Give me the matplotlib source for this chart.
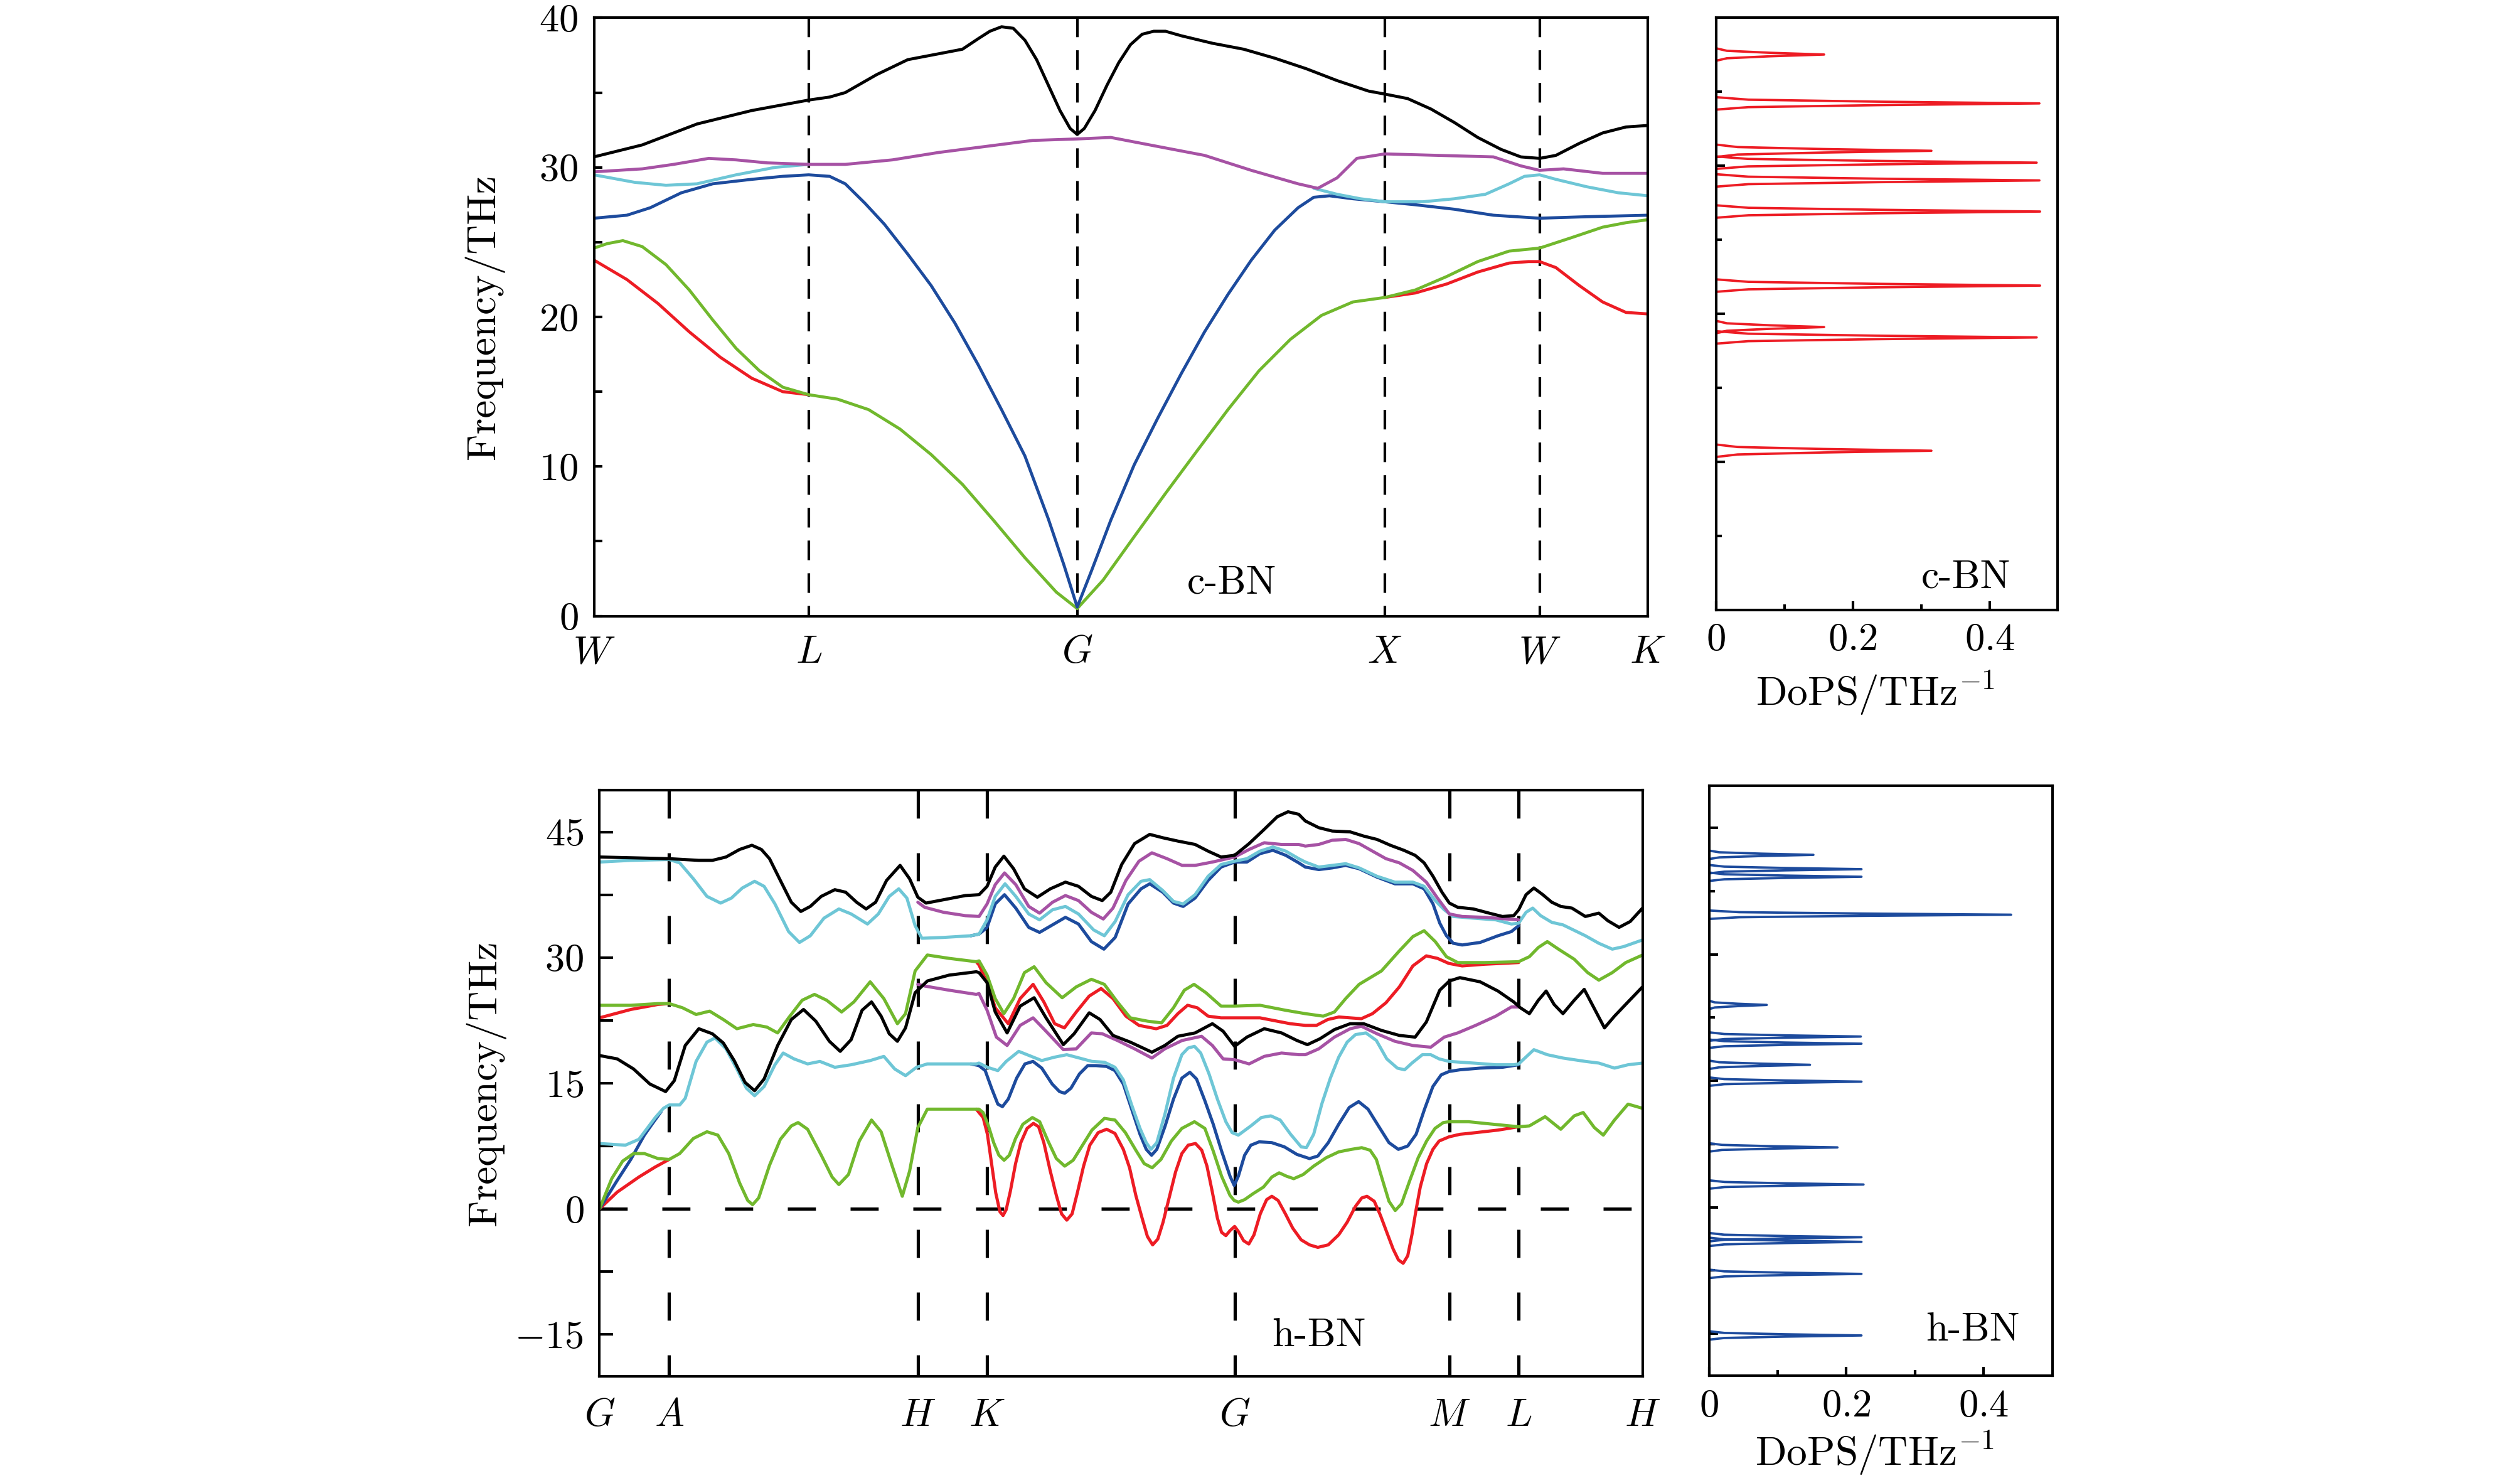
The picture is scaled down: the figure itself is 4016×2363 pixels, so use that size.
import matplotlib
matplotlib.use("Agg")
import matplotlib.pyplot as plt
import numpy as np

# ---------------- c-BN (top) ----------------
cbn_kpos = [0.0, 0.698, 1.571, 2.571, 3.074, 3.426]
cbn_klabels = ["W", "L", "G", "X", "W", "K"]
cbn_yticks = [0, 10, 20, 30, 40]

cbn_black = [(0, 30.7), (0.157, 31.5), (0.335, 32.9), (0.513, 33.8), (0.698, 34.5), (0.766, 34.7),
             (0.817, 35.0), (0.919, 36.2), (1.020, 37.2), (1.122, 37.6), (1.198, 37.9), (1.249, 38.6),
             (1.287, 39.1), (1.325, 39.4), (1.363, 39.3), (1.401, 38.5), (1.439, 37.2), (1.477, 35.5),
             (1.515, 33.8), (1.548, 32.6), (1.571, 32.2), (1.594, 32.6), (1.629, 33.8), (1.668, 35.5),
             (1.706, 37.0), (1.744, 38.2), (1.782, 38.9), (1.820, 39.1), (1.858, 39.1), (1.909, 38.8),
             (2.010, 38.3), (2.112, 37.9), (2.213, 37.3), (2.315, 36.6), (2.416, 35.8), (2.518, 35.1),
             (2.571, 34.9), (2.645, 34.6), (2.721, 33.9), (2.797, 33.0), (2.873, 32.0), (2.949, 31.2),
             (3.013, 30.7), (3.074, 30.6), (3.127, 30.8), (3.203, 31.6), (3.279, 32.3), (3.355, 32.7),
             (3.426, 32.8)]
cbn_magenta = [(0, 29.7), (0.157, 29.9), (0.259, 30.2), (0.373, 30.6), (0.462, 30.5), (0.563, 30.3),
               (0.698, 30.2), (0.817, 30.2), (0.970, 30.5), (1.122, 31.0), (1.274, 31.4), (1.426, 31.8),
               (1.571, 31.9), (1.680, 32.0), (1.832, 31.4), (1.985, 30.8), (2.137, 29.8), (2.289, 28.9),
               (2.353, 28.6), (2.416, 29.3), (2.480, 30.6), (2.571, 30.9), (2.746, 30.8), (2.924, 30.7),
               (3.013, 30.1), (3.074, 29.8), (3.152, 29.9), (3.279, 29.6), (3.426, 29.6)]
cbn_cyan_a = [(0, 29.5), (0.132, 29.0), (0.234, 28.8), (0.335, 28.9), (0.462, 29.5), (0.589, 30.0),
              (0.698, 30.2)]
cbn_cyan_b = [(2.340, 28.6), (2.416, 28.2), (2.492, 27.9), (2.571, 27.7), (2.695, 27.7), (2.797, 27.9),
              (2.898, 28.2), (2.975, 28.9), (3.025, 29.4), (3.074, 29.5), (3.127, 29.2), (3.228, 28.7),
              (3.330, 28.3), (3.426, 28.1)]
cbn_blue = [(0, 26.6), (0.107, 26.8), (0.183, 27.3), (0.284, 28.3), (0.386, 28.9), (0.513, 29.2),
            (0.614, 29.4), (0.698, 29.5), (0.766, 29.4), (0.817, 28.9), (0.881, 27.6), (0.944, 26.2),
            (1.020, 24.2), (1.096, 22.1), (1.173, 19.6), (1.249, 16.8), (1.325, 13.8), (1.401, 10.7),
            (1.477, 6.5), (1.528, 3.4), (1.571, 0.6), (1.617, 3.0), (1.680, 6.4), (1.756, 10.1),
            (1.832, 13.2), (1.909, 16.2), (1.985, 19.0), (2.061, 21.5), (2.137, 23.8), (2.213, 25.8),
            (2.289, 27.3), (2.340, 28.0), (2.391, 28.1), (2.467, 27.9), (2.571, 27.7), (2.670, 27.5),
            (2.797, 27.2), (2.924, 26.8), (3.074, 26.6), (3.228, 26.7), (3.426, 26.8)]
cbn_green = [(0, 24.6), (0.043, 24.9), (0.094, 25.1), (0.157, 24.7), (0.234, 23.5), (0.310, 21.8),
             (0.386, 19.8), (0.462, 17.9), (0.538, 16.4), (0.614, 15.3), (0.698, 14.8), (0.792, 14.5),
             (0.893, 13.8), (0.995, 12.5), (1.096, 10.8), (1.198, 8.8), (1.299, 6.4), (1.401, 3.9),
             (1.503, 1.6), (1.571, 0.5), (1.655, 2.4), (1.756, 5.3), (1.858, 8.2), (1.959, 11.0),
             (2.061, 13.8), (2.162, 16.4), (2.264, 18.5), (2.365, 20.1), (2.467, 21.0), (2.571, 21.3),
             (2.670, 21.8), (2.772, 22.7), (2.873, 23.7), (2.975, 24.4), (3.074, 24.6), (3.178, 25.3),
             (3.279, 26.0), (3.355, 26.3), (3.426, 26.5)]
cbn_red_a = [(0, 23.8), (0.107, 22.5), (0.208, 20.9), (0.310, 19.0), (0.411, 17.3), (0.513, 15.9),
             (0.614, 15.0), (0.698, 14.8)]
cbn_red_b = [(2.571, 21.3), (2.670, 21.6), (2.772, 22.2), (2.873, 23.0), (2.975, 23.6), (3.038, 23.7),
             (3.074, 23.7), (3.127, 23.3), (3.203, 22.1), (3.279, 21.0), (3.355, 20.3), (3.426, 20.2)]

cbn_dops_freq = [37.5, 34.2, 31.0, 30.2, 29.0, 26.9, 21.9, 19.1, 18.4, 10.75]
cbn_dops_val = [0.158, 0.473, 0.315, 0.469, 0.473, 0.474, 0.474, 0.158, 0.469, 0.315]

# ---------------- h-BN (bottom) ----------------
hbn_kpos = [0.0, 0.0668, 0.3053, 0.3714, 0.6089, 0.8148, 0.8812, 1.0]
hbn_klabels = ["G", "A", "H", "K", "G", "M", "L", "H"]
hbn_yticks = [-15, 0, 15, 30, 45]

hbn_black_top = [(0, 42.0), (0.0668, 41.8), (0.0952, 41.6), (0.1082, 41.6), (0.1213, 42.0), (0.1343, 42.9),
                 (0.1461, 43.4), (0.1552, 42.9), (0.1630, 41.8), (0.1734, 39.2), (0.1839, 36.6),
                 (0.1930, 35.5), (0.2021, 36.1), (0.2126, 37.3), (0.2256, 38.1), (0.2360, 37.8),
                 (0.2465, 36.6), (0.2556, 35.8), (0.2647, 36.6), (0.2752, 39.2), (0.2882, 41.0),
                 (0.2973, 39.4), (0.3052, 37.2), (0.3130, 36.5), (0.3299, 36.9), (0.3508, 37.4),
                 (0.3639, 37.5), (0.3716, 38.5), (0.3794, 40.8), (0.3877, 42.1), (0.3970, 40.6),
                 (0.4074, 38.2), (0.4198, 37.2), (0.4322, 38.2), (0.4467, 39.0), (0.4592, 38.5),
                 (0.4716, 37.3), (0.4820, 36.8), (0.4902, 37.8), (0.5006, 41.1), (0.5130, 43.6),
                 (0.5275, 44.7), (0.5400, 44.3), (0.5545, 43.9), (0.5710, 43.5), (0.5835, 42.7),
                 (0.5959, 42.0), (0.6089, 42.2), (0.6228, 43.6), (0.6373, 45.3), (0.6497, 46.8),
                 (0.6601, 47.4), (0.6704, 47.1), (0.6767, 46.3), (0.6896, 45.5), (0.7025, 45.1),
                 (0.7197, 45.0), (0.7326, 44.5), (0.7454, 44.1), (0.7583, 43.4), (0.7712, 42.8),
                 (0.7820, 42.2), (0.7906, 41.3), (0.7991, 39.7), (0.8077, 37.8), (0.8148, 36.5),
                 (0.8228, 36.0), (0.8378, 35.8), (0.8529, 35.3), (0.8657, 34.9), (0.8765, 35.0),
                 (0.8812, 35.7), (0.8883, 37.5), (0.8958, 38.3), (0.9044, 37.5), (0.9130, 36.6),
                 (0.9216, 36.1), (0.9323, 35.9), (0.9452, 34.9), (0.9581, 35.3), (0.9667, 34.4),
                 (0.9775, 33.6), (0.9882, 34.3), (1.0, 35.9)]
hbn_cyan_top = [(0, 41.4), (0.0300, 41.6), (0.0668, 41.7), (0.0769, 41.3), (0.0900, 39.4), (0.1030, 37.3),
                (0.1161, 36.5), (0.1265, 37.1), (0.1369, 38.3), (0.1487, 39.1), (0.1578, 38.5),
                (0.1682, 36.4), (0.1813, 33.1), (0.1917, 31.8), (0.2021, 32.6), (0.2152, 34.7),
                (0.2295, 35.8), (0.2413, 35.2), (0.2569, 34.0), (0.2673, 35.2), (0.2778, 37.3),
                (0.2869, 38.2), (0.2947, 37.1), (0.3026, 33.8), (0.3091, 32.3), (0.3299, 32.4),
                (0.3560, 32.6), (0.3639, 32.8), (0.3716, 34.5), (0.3794, 37.3), (0.3888, 38.8),
                (0.3991, 37.3), (0.4115, 35.2), (0.4219, 34.5), (0.4343, 35.7), (0.4467, 36.1),
                (0.4592, 35.2), (0.4737, 33.3), (0.4840, 32.6), (0.4944, 34.3), (0.5068, 37.5),
                (0.5192, 39.1), (0.5275, 39.3), (0.5400, 38.0), (0.5503, 36.7), (0.5596, 36.4),
                (0.5710, 37.5), (0.5835, 39.7), (0.5959, 41.1), (0.6089, 41.5), (0.6207, 41.8),
                (0.6332, 42.7), (0.6456, 43.2), (0.6580, 42.7), (0.6704, 41.8), (0.6767, 41.4),
                (0.6896, 40.8), (0.7025, 41.0), (0.7154, 41.2), (0.7283, 40.7), (0.7454, 39.7),
                (0.7626, 39.0), (0.7798, 39.0), (0.7906, 38.5), (0.8013, 36.8), (0.8099, 35.7),
                (0.8185, 34.9), (0.8378, 34.7), (0.8593, 34.5), (0.8743, 34.0), (0.8812, 34.1),
                (0.8883, 35.4), (0.8947, 35.9), (0.9023, 35.0), (0.9130, 34.2), (0.9237, 33.9),
                (0.9452, 32.6), (0.9581, 31.7), (0.9710, 31.0), (0.9818, 31.3), (1.0, 32.1)]
hbn_magenta_top = [(0.3052, 36.6), (0.3117, 36.0), (0.3299, 35.4), (0.3508, 35.0), (0.3639, 34.9),
                   (0.3716, 36.4), (0.3794, 38.7), (0.3883, 40.1), (0.3991, 38.7), (0.4115, 36.1),
                   (0.4219, 35.3), (0.4343, 36.6), (0.4467, 37.4), (0.4592, 36.8), (0.4716, 35.4),
                   (0.4830, 34.6), (0.4923, 35.9), (0.5047, 39.2), (0.5172, 41.5), (0.5296, 42.5),
                   (0.5441, 41.8), (0.5586, 41.0), (0.5710, 41.0), (0.5876, 41.4), (0.6089, 42.0),
                   (0.6228, 42.9), (0.6373, 43.7), (0.6539, 43.5), (0.6704, 43.5), (0.6767, 43.3),
                   (0.6896, 43.5), (0.7025, 44.0), (0.7154, 44.1), (0.7283, 43.6), (0.7411, 42.7),
                   (0.7540, 41.8), (0.7669, 41.3), (0.7798, 40.4), (0.7927, 39.0), (0.8034, 37.1),
                   (0.8148, 35.2), (0.8271, 34.9), (0.8486, 34.8), (0.8700, 34.6), (0.8812, 34.5)]
hbn_blue_top = [(0.3560, 32.6), (0.3639, 32.8), (0.3716, 33.6), (0.3794, 36.4), (0.3883, 37.5),
                (0.3991, 35.9), (0.4115, 33.6), (0.4219, 33.0), (0.4343, 33.9), (0.4467, 34.8),
                (0.4592, 34.0), (0.4716, 31.9), (0.4836, 31.0), (0.4944, 32.4), (0.5068, 36.4),
                (0.5192, 38.2), (0.5275, 38.8), (0.5400, 37.8), (0.5503, 36.5), (0.5596, 36.1),
                (0.5710, 37.1), (0.5835, 39.2), (0.5959, 40.8), (0.6089, 41.4), (0.6207, 41.4),
                (0.6332, 42.4), (0.6456, 42.8), (0.6580, 42.2), (0.6704, 41.3), (0.6767, 40.8),
                (0.6896, 40.5), (0.7025, 40.7), (0.7154, 41.0), (0.7283, 40.6), (0.7454, 39.6),
                (0.7626, 38.8), (0.7798, 38.8), (0.7906, 38.2), (0.7991, 36.4), (0.8056, 34.1),
                (0.8120, 32.6), (0.8185, 31.7), (0.8271, 31.5), (0.8443, 31.8), (0.8614, 32.6),
                (0.8743, 33.1), (0.8812, 33.8)]
hbn_green_mid = [(0, 24.3), (0.0300, 24.3), (0.0561, 24.5), (0.0668, 24.5), (0.0796, 24.0), (0.0926, 23.2),
                 (0.1056, 23.6), (0.1187, 22.6), (0.1317, 21.5), (0.1474, 22.0), (0.1604, 21.7),
                 (0.1708, 21.0), (0.1813, 22.8), (0.1943, 24.9), (0.2061, 25.6), (0.2178, 24.9),
                 (0.2321, 23.5), (0.2439, 24.7), (0.2595, 27.1), (0.2726, 25.1), (0.2856, 22.1),
                 (0.2934, 23.3), (0.3026, 28.4), (0.3143, 30.3), (0.3352, 29.9), (0.3612, 29.5),
                 (0.3639, 29.6), (0.3716, 27.9), (0.3794, 25.1), (0.3877, 23.3), (0.3970, 25.1),
                 (0.4074, 28.2), (0.4167, 28.9), (0.4281, 27.0), (0.4436, 25.2), (0.4571, 26.5),
                 (0.4716, 27.4), (0.4840, 26.8), (0.4965, 24.7), (0.5089, 22.8), (0.5255, 22.4),
                 (0.5389, 22.2), (0.5503, 24.0), (0.5607, 26.1), (0.5700, 26.8), (0.5814, 25.8),
                 (0.5959, 24.2), (0.6089, 24.2), (0.6332, 24.3), (0.6580, 23.7), (0.6767, 23.3),
                 (0.6939, 23.0), (0.7046, 23.5), (0.7154, 25.1), (0.7283, 26.8), (0.7497, 28.4),
                 (0.7669, 30.8), (0.7798, 32.5), (0.7906, 33.2), (0.8013, 31.9), (0.8120, 30.1),
                 (0.8228, 29.4), (0.8486, 29.4), (0.8812, 29.5), (0.8915, 30.1), (0.9001, 31.2),
                 (0.9087, 31.9), (0.9194, 31.0), (0.9345, 29.8), (0.9474, 28.2), (0.9581, 27.3),
                 (0.9710, 28.2), (0.9839, 29.4), (1.0, 30.3)]
hbn_red_mid_a = [(0, 22.8), (0.0300, 23.8), (0.0561, 24.4), (0.0668, 24.5)]
hbn_red_mid_b = [(0.3612, 29.5), (0.3639, 29.1), (0.3716, 27.0), (0.3794, 24.0), (0.3919, 22.1),
                 (0.4033, 25.1), (0.4157, 26.8), (0.4260, 24.7), (0.4364, 22.1), (0.4457, 21.6),
                 (0.4571, 23.5), (0.4695, 25.4), (0.4809, 26.3), (0.4923, 25.1), (0.5047, 23.0),
                 (0.5172, 21.9), (0.5337, 21.5), (0.5441, 21.9), (0.5545, 23.3), (0.5638, 24.3),
                 (0.5731, 24.0), (0.5835, 23.0), (0.5959, 22.8), (0.6089, 22.8), (0.6332, 22.8),
                 (0.6622, 22.1), (0.6767, 21.9), (0.6874, 21.9), (0.6982, 22.6), (0.7089, 22.9),
                 (0.7304, 22.7), (0.7411, 23.3), (0.7540, 24.6), (0.7669, 26.5), (0.7798, 29.0),
                 (0.7927, 30.2), (0.8034, 29.9), (0.8142, 29.3), (0.8271, 29.0), (0.8486, 29.2),
                 (0.8812, 29.4)]
hbn_black_mid = [(0, 18.3), (0.0170, 17.9), (0.0326, 16.7), (0.0483, 14.9), (0.0634, 14.0), (0.0717, 15.3),
                 (0.0822, 19.5), (0.0952, 21.5), (0.1082, 20.9), (0.1187, 19.8), (0.1291, 17.7),
                 (0.1395, 15.1), (0.1487, 14.1), (0.1578, 15.5), (0.1708, 19.5), (0.1839, 22.6),
                 (0.1956, 23.8), (0.2074, 22.4), (0.2204, 20.0), (0.2308, 18.8), (0.2413, 20.2),
                 (0.2517, 23.7), (0.2608, 24.7), (0.2700, 23.0), (0.2778, 20.9), (0.2856, 20.0),
                 (0.2934, 21.6), (0.3026, 25.8), (0.3143, 27.2), (0.3352, 27.9), (0.3612, 28.3),
                 (0.3639, 28.2), (0.3716, 27.0), (0.3794, 23.5), (0.3908, 21.0), (0.4033, 24.2),
                 (0.4167, 25.2), (0.4281, 22.8), (0.4447, 19.6), (0.4550, 20.9), (0.4695, 23.4),
                 (0.4799, 22.6), (0.4923, 20.7), (0.5089, 19.9), (0.5296, 18.7), (0.5420, 19.5),
                 (0.5545, 20.6), (0.5710, 21.0), (0.5876, 22.1), (0.5979, 21.2), (0.6089, 19.4),
                 (0.6207, 20.5), (0.6373, 21.5), (0.6539, 21.0), (0.6686, 20.1), (0.6787, 19.6),
                 (0.6907, 20.3), (0.7046, 21.4), (0.7197, 22.1), (0.7326, 22.1), (0.7497, 21.3),
                 (0.7669, 20.7), (0.7820, 20.5), (0.7927, 22.3), (0.8056, 26.1), (0.8148, 27.2),
                 (0.8249, 27.6), (0.8443, 27.1), (0.8614, 26.0), (0.8765, 24.7), (0.8829, 24.0),
                 (0.8915, 23.3), (0.9001, 24.9), (0.9076, 26.0), (0.9152, 24.4), (0.9237, 23.3),
                 (0.9345, 24.9), (0.9441, 26.2), (0.9517, 24.4), (0.9635, 21.6), (0.9731, 23.0),
                 (0.9861, 24.7), (1.0, 26.5)]
hbn_magenta_mid = [(0.3052, 26.8), (0.3117, 26.6), (0.3352, 26.1), (0.3612, 25.6), (0.3639, 25.7),
                   (0.3716, 23.7), (0.3805, 20.5), (0.3908, 19.5), (0.4033, 21.9), (0.4157, 22.8),
                   (0.4281, 21.2), (0.4447, 19.0), (0.4571, 19.1), (0.4716, 21.0), (0.4820, 20.9),
                   (0.4965, 20.1), (0.5130, 19.1), (0.5296, 18.0), (0.5420, 19.1), (0.5586, 20.1),
                   (0.5772, 20.6), (0.5876, 19.5), (0.5979, 17.9), (0.6089, 17.8), (0.6228, 17.3),
                   (0.6373, 18.2), (0.6539, 18.6), (0.6704, 18.4), (0.6767, 18.4), (0.6896, 19.1),
                   (0.7046, 20.5), (0.7197, 21.5), (0.7304, 21.8), (0.7454, 20.9), (0.7626, 20.0),
                   (0.7798, 19.5), (0.7970, 19.3), (0.8099, 20.5), (0.8228, 21.0), (0.8400, 21.9),
                   (0.8593, 23.0), (0.8743, 24.1), (0.8812, 24.1)]
hbn_cyan_mid = [(0, 7.8), (0.0248, 7.6), (0.0378, 8.3), (0.0535, 10.9), (0.0613, 12.0), (0.0668, 12.4),
                (0.0769, 12.4), (0.0822, 13.2), (0.0926, 17.6), (0.1030, 19.9), (0.1108, 20.4),
                (0.1213, 19.1), (0.1317, 16.7), (0.1408, 14.4), (0.1487, 13.5), (0.1578, 14.6),
                (0.1682, 17.2), (0.1761, 18.6), (0.1865, 17.9), (0.1995, 17.3), (0.2113, 17.6),
                (0.2256, 16.9), (0.2413, 17.2), (0.2595, 17.7), (0.2726, 18.2), (0.2830, 16.7),
                (0.2934, 15.9), (0.3039, 16.9), (0.3143, 17.3), (0.3612, 17.3), (0.3638, 17.4),
                (0.3719, 16.9), (0.3819, 16.5), (0.3899, 17.6), (0.4019, 18.8), (0.4120, 18.3),
                (0.4240, 17.7), (0.4360, 18.1), (0.4480, 18.4), (0.4601, 18.0), (0.4721, 17.6),
                (0.4841, 17.5), (0.4942, 16.9), (0.5022, 15.4), (0.5102, 12.4), (0.5182, 9.6),
                (0.5242, 7.9), (0.5287, 7.1), (0.5343, 7.9), (0.5423, 11.4), (0.5503, 15.6),
                (0.5583, 18.4), (0.5644, 19.2), (0.5704, 19.4), (0.5764, 18.6), (0.5844, 16.1),
                (0.5924, 13.1), (0.6005, 10.4), (0.6065, 9.1), (0.6125, 8.8), (0.6245, 9.9),
                (0.6345, 10.9), (0.6436, 11.1), (0.6526, 10.6), (0.6626, 8.9), (0.6727, 7.4),
                (0.6777, 7.3), (0.6847, 8.9), (0.6927, 12.6), (0.7007, 15.6), (0.7087, 18.1),
                (0.7168, 19.9), (0.7248, 20.8), (0.7348, 21.0), (0.7448, 20.1), (0.7548, 17.9),
                (0.7649, 16.8), (0.7719, 16.6), (0.7789, 17.4), (0.7889, 18.4), (0.7970, 18.4),
                (0.8050, 17.9), (0.8146, 17.6), (0.8378, 17.4), (0.8593, 17.2), (0.8765, 17.2),
                (0.8812, 17.3), (0.8958, 19.0), (0.9087, 18.4), (0.9237, 18.0), (0.9452, 17.6),
                (0.9581, 17.4), (0.9731, 16.8), (0.9861, 17.2), (1.0, 17.4)]
hbn_blue_low_a = [(0, 0.0), (0.0170, 3.4), (0.0300, 5.9), (0.0430, 8.8), (0.0509, 10.2), (0.0590, 11.6)]
hbn_blue_low_b = [(0.3560, 17.3), (0.3638, 17.1), (0.3698, 16.5), (0.3759, 14.4), (0.3819, 12.5),
                  (0.3863, 12.2), (0.3919, 13.1), (0.3999, 15.6), (0.4079, 17.3), (0.4156, 17.6),
                  (0.4240, 16.8), (0.4340, 14.9), (0.4410, 14.0), (0.4460, 13.8), (0.4520, 14.4),
                  (0.4601, 16.1), (0.4681, 17.1), (0.4761, 17.1), (0.4862, 17.0), (0.4942, 16.5),
                  (0.5022, 14.9), (0.5102, 11.9), (0.5182, 8.9), (0.5242, 7.1), (0.5293, 6.4),
                  (0.5343, 7.1), (0.5423, 9.9), (0.5503, 13.1), (0.5583, 15.6), (0.5660, 16.3),
                  (0.5724, 15.5), (0.5804, 12.9), (0.5884, 10.1), (0.5964, 6.9), (0.6045, 3.9),
                  (0.6085, 2.8), (0.6125, 3.9), (0.6185, 6.4), (0.6245, 7.6), (0.6325, 8.0),
                  (0.6446, 7.9), (0.6566, 7.4), (0.6686, 6.5), (0.6807, 6.0), (0.6887, 6.3),
                  (0.6987, 7.9), (0.7087, 10.1), (0.7188, 12.1), (0.7278, 12.8), (0.7368, 11.9),
                  (0.7468, 9.9), (0.7569, 7.9), (0.7659, 7.1), (0.7749, 7.5), (0.7829, 8.9),
                  (0.7910, 11.9), (0.7990, 14.6), (0.8070, 16.0), (0.8146, 16.4), (0.8250, 16.6),
                  (0.8443, 16.8), (0.8657, 16.9), (0.8812, 17.2)]
hbn_green_low = [(0, 0.0), (0.0117, 3.6), (0.0222, 5.7), (0.0326, 6.6), (0.0430, 6.6), (0.0561, 6.0),
                 (0.0668, 5.9), (0.0769, 6.6), (0.0900, 8.4), (0.1030, 9.2), (0.1135, 8.8), (0.1239, 6.6),
                 (0.1343, 3.1), (0.1421, 1.0), (0.1468, 0.5), (0.1526, 1.3), (0.1630, 5.2), (0.1734, 8.3),
                 (0.1839, 9.9), (0.1904, 10.3), (0.1995, 9.5), (0.2126, 6.4), (0.2230, 3.8),
                 (0.2295, 2.9), (0.2387, 4.1), (0.2491, 8.1), (0.2608, 10.6), (0.2700, 9.2),
                 (0.2804, 5.2), (0.2903, 1.5), (0.2973, 4.5), (0.3052, 9.7), (0.3143, 11.9),
                 (0.3299, 11.9), (0.3612, 11.9), (0.3638, 11.9), (0.3678, 11.5), (0.3729, 9.9),
                 (0.3779, 7.9), (0.3829, 6.4), (0.3879, 5.8), (0.3929, 6.4), (0.3989, 8.4),
                 (0.4059, 10.1), (0.4150, 10.9), (0.4220, 10.4), (0.4300, 8.1), (0.4380, 6.0),
                 (0.4460, 5.1), (0.4541, 5.8), (0.4621, 7.4), (0.4721, 9.4), (0.4841, 10.8),
                 (0.4942, 10.6), (0.5042, 9.1), (0.5142, 7.0), (0.5222, 5.4), (0.5299, 4.9),
                 (0.5383, 5.9), (0.5483, 8.1), (0.5583, 9.6), (0.5704, 10.4), (0.5804, 9.6),
                 (0.5884, 6.9), (0.5964, 3.9), (0.6045, 1.6), (0.6085, 1.0), (0.6125, 0.8),
                 (0.6185, 1.1), (0.6265, 1.8), (0.6366, 2.6), (0.6446, 3.8), (0.6516, 4.3),
                 (0.6586, 3.9), (0.6656, 3.6), (0.6747, 4.1), (0.6847, 5.1), (0.6967, 6.1),
                 (0.7087, 6.8), (0.7208, 7.1), (0.7308, 7.3), (0.7388, 7.0), (0.7448, 5.9),
                 (0.7508, 3.4), (0.7569, 0.9), (0.7629, -0.2), (0.7689, 0.6), (0.7769, 3.4),
                 (0.7849, 6.1), (0.7930, 8.1), (0.8010, 9.6), (0.8090, 10.3), (0.8146, 10.4),
                 (0.8331, 10.4), (0.8486, 10.2), (0.8812, 9.8), (0.8915, 9.9), (0.9066, 11.0),
                 (0.9216, 9.5), (0.9345, 11.1), (0.9431, 11.5), (0.9538, 9.7), (0.9624, 8.8),
                 (0.9731, 10.6), (0.9861, 12.5), (1.0, 12.0)]
hbn_red_low_a = [(0, 0.0), (0.0170, 2.0), (0.0378, 3.8), (0.0535, 5.0), (0.0668, 5.9)]
hbn_red_low_b = [(0.3612, 11.9), (0.3638, 11.5), (0.3678, 10.9), (0.3719, 8.9), (0.3759, 5.4), (0.3799, 1.9),
                 (0.3839, -0.35), (0.3869, -0.8), (0.3899, -0.1), (0.3939, 2.1), (0.3989, 5.4),
                 (0.4039, 7.9), (0.4099, 9.6), (0.4160, 10.2), (0.4210, 9.8), (0.4260, 7.9),
                 (0.4320, 4.6), (0.4380, 1.6), (0.4430, -0.6), (0.4480, -1.35), (0.4531, -0.6),
                 (0.4581, 1.9), (0.4641, 5.1), (0.4701, 7.6), (0.4781, 9.1), (0.4862, 9.5),
                 (0.4942, 9.0), (0.5022, 7.1), (0.5082, 4.9), (0.5142, 1.6), (0.5202, -1.1),
                 (0.5253, -3.3), (0.5303, -4.3), (0.5353, -3.6), (0.5403, -1.6), (0.5463, 1.4),
                 (0.5523, 4.4), (0.5583, 6.6), (0.5644, 7.6), (0.5714, 7.8), (0.5774, 7.0),
                 (0.5824, 5.1), (0.5874, 2.1), (0.5924, -1.1), (0.5964, -2.8), (0.6005, -3.2),
                 (0.6045, -2.6), (0.6089, -2.1), (0.6125, -2.7), (0.6175, -3.8), (0.6225, -4.2),
                 (0.6275, -3.1), (0.6335, -0.6), (0.6396, 1.1), (0.6446, 1.5), (0.6506, 1.0),
                 (0.6576, -0.6), (0.6646, -2.3), (0.6727, -3.7), (0.6807, -4.3), (0.6887, -4.6),
                 (0.6987, -4.3), (0.7087, -3.1), (0.7168, -1.6), (0.7248, 0.3), (0.7308, 1.3),
                 (0.7358, 1.5), (0.7428, 0.9), (0.7488, -0.8), (0.7548, -2.8), (0.7609, -4.8),
                 (0.7660, -6.1), (0.7705, -6.5), (0.7749, -5.6), (0.7789, -3.1), (0.7829, -0.1),
                 (0.7869, 2.6), (0.7930, 5.4), (0.7990, 7.1), (0.8050, 8.1), (0.8146, 8.6),
                 (0.8250, 8.9), (0.8331, 9.0), (0.8614, 9.4), (0.8812, 9.8)]

hbn_dops_freq = [41.8, 40.1, 39.2, 34.7, 24.0, 20.25, 19.4, 16.9, 14.9, 7.1, 2.7, -3.55, -4.1, -7.9, -15.2]
hbn_dops_val = [0.152, 0.222, 0.222, 0.440, 0.084, 0.221, 0.222, 0.147, 0.222, 0.187, 0.225, 0.222,
                0.222, 0.222, 0.222]

dops_xticks = [0, 0.2, 0.4]
dops_xticklabels = ["0", "0.2", "0.4"]

# ---------------- style ----------------
RED = "#ED1C24"
GREEN = "#71B82D"
BLUE = "#1D4B9D"
CYAN = "#6EC6D6"
MAGENTA = "#A652A4"
BLACK = "#000000"

plt.rcParams.update({
    "font.family": "cmr10",
    "mathtext.fontset": "cm",
    "font.size": 15,
    "axes.linewidth": 1.0,
    "axes.formatter.use_mathtext": True,
})
LABEL_FS = 15.7
TEXT_FS = 15.3

fig = plt.figure(figsize=(4016 / 300, 2363 / 300), dpi=300)
ax1 = fig.add_axes([0.2357, 0.5846, 0.4182, 0.4034])
ax2 = fig.add_axes([0.6810, 0.5887, 0.1356, 0.3995])
ax3 = fig.add_axes([0.2379, 0.0719, 0.4139, 0.3954])
ax4 = fig.add_axes([0.6782, 0.0722, 0.1362, 0.3980])


def draw(ax, curve, color, lw):
    xs, ys = zip(*curve)
    ax.plot(xs, ys, color=color, lw=lw, solid_capstyle="round", solid_joinstyle="round", zorder=3)


# spike glyph (shape only): fraction of peak height vs fraction of base half-width
SPIKE_H = [0.0, 0.1, 0.5, 1.0]
SPIKE_W = [1.0, 0.6, 0.28, 0.0]


def spikes(freqs, vals, hw, ylo, yhi):
    order = np.argsort(freqs)
    xs, ys = [0.0], [ylo]
    for i in order:
        for fh, fw in zip(SPIKE_H, SPIKE_W):
            xs.append(vals[i] * fh)
            ys.append(freqs[i] - hw * fw)
        for fh, fw in zip(SPIKE_H[-2::-1], SPIKE_W[-2::-1]):
            xs.append(vals[i] * fh)
            ys.append(freqs[i] + hw * fw)
    xs.append(0.0)
    ys.append(yhi)
    return xs, ys


# --- top band structure ---
LW1 = 1.15
for c in (cbn_red_a, cbn_red_b):
    draw(ax1, c, RED, LW1)
draw(ax1, cbn_green, GREEN, LW1)
draw(ax1, cbn_blue, BLUE, LW1)
for c in (cbn_cyan_a, cbn_cyan_b):
    draw(ax1, c, CYAN, LW1)
draw(ax1, cbn_magenta, MAGENTA, LW1)
draw(ax1, cbn_black, BLACK, LW1)
ax1.set_xlim(cbn_kpos[0], cbn_kpos[-1])
ax1.set_ylim(0, 40)
for k in cbn_kpos[1:-1]:
    ax1.plot([k, k], [40, 0], color="black", lw=1.0, dashes=(7.5, 5.0), zorder=2)
ax1.set_xticks(cbn_kpos)
ax1.set_xticklabels(["$%s$" % s for s in cbn_klabels])
ax1.set_yticks(cbn_yticks)
ax1.set_yticklabels(["$%d$" % v for v in cbn_yticks])
ax1.set_yticks([5, 15, 25, 35], minor=True)
ax1.tick_params(axis="x", which="both", length=0, pad=7.5)
ax1.tick_params(axis="y", which="both", direction="in", length=3.0, width=1.0, pad=6)
ax1.set_ylabel("Frequency/THz", fontsize=LABEL_FS)
ax1.yaxis.set_label_coords(-0.085, 0.5)
ax1.text(1.928, 1.5, "c-BN", ha="left", va="baseline", fontsize=TEXT_FS)

# --- top DoPS ---
xs, ys = spikes(cbn_dops_freq, cbn_dops_val, 0.42, 0, 40)
ax2.plot(xs, ys, color=RED, lw=0.9, zorder=3)
ax2.set_xlim(0, 0.5)
ax2.set_ylim(0, 40)
ax2.set_xticks(dops_xticks)
ax2.set_xticklabels(["$%s$" % s for s in dops_xticklabels])
ax2.set_xticks([0.1, 0.3], minor=True)
ax2.set_yticks([10, 20, 30])
ax2.set_yticks([5, 15, 25, 35], minor=True)
ax2.tick_params(axis="y", which="both", labelleft=False)
ax2.tick_params(which="major", direction="in", length=3.4, width=1.0, pad=5)
ax2.tick_params(which="minor", direction="in", length=2.1, width=1.0)
ax2.set_xlabel(r"DoPS/THz$^{-1}$", fontsize=LABEL_FS)
ax2.xaxis.label.set_va("baseline")
ax2.xaxis.set_label_coords(0.465, -0.160)
ax2.text(0.30, 1.5, "c-BN", ha="left", va="baseline", fontsize=TEXT_FS)

# --- bottom band structure ---
LW3 = 1.2
for c in (hbn_red_low_a, hbn_red_low_b, hbn_red_mid_a, hbn_red_mid_b):
    draw(ax3, c, RED, LW3)
for c in (hbn_blue_low_a, hbn_blue_low_b, hbn_blue_top):
    draw(ax3, c, BLUE, LW3)
for c in (hbn_green_low, hbn_green_mid):
    draw(ax3, c, GREEN, LW3)
for c in (hbn_cyan_mid, hbn_cyan_top):
    draw(ax3, c, CYAN, LW3)
for c in (hbn_magenta_mid, hbn_magenta_top):
    draw(ax3, c, MAGENTA, LW3)
for c in (hbn_black_mid, hbn_black_top):
    draw(ax3, c, BLACK, LW3)
ax3.set_xlim(hbn_kpos[0], hbn_kpos[-1])
ax3.set_ylim(-20, 50)
for k in hbn_kpos[1:-1]:
    ax3.plot([k, k], [50, -20], color="black", lw=1.25, dashes=(8.6, 10.6), zorder=2)
ax3.axhline(0, color="black", lw=1.25, dashes=(8.6, 10.6), zorder=2)
ax3.set_xticks(hbn_kpos)
ax3.set_xticklabels(["$%s$" % s for s in hbn_klabels])
ax3.set_yticks(hbn_yticks)
ax3.set_yticklabels(["$%d$" % v for v in hbn_yticks])
ax3.set_yticks([-7.5, 7.5, 22.5, 37.5], minor=True)
ax3.tick_params(axis="x", which="both", length=0, pad=8.5)
ax3.tick_params(axis="y", which="both", direction="in", length=5.2, width=1.0, pad=6)
ax3.set_ylabel("Frequency/THz", fontsize=LABEL_FS)
ax3.yaxis.set_label_coords(-0.0896, 0.5)
ax3.text(0.6445, -16.4, "h-BN", ha="left", va="baseline", fontsize=TEXT_FS)

# --- bottom DoPS ---
xs, ys = spikes(hbn_dops_freq, hbn_dops_val, 0.5, -20, 50)
ax4.plot(xs, ys, color=BLUE, lw=0.9, zorder=3)
ax4.set_xlim(0, 0.5)
ax4.set_ylim(-20, 50)
ax4.set_xticks(dops_xticks)
ax4.set_xticklabels(["$%s$" % s for s in dops_xticklabels])
ax4.set_xticks([0.1, 0.3], minor=True)
ax4.set_yticks(hbn_yticks)
ax4.set_yticks([-7.5, 7.5, 22.5, 37.5], minor=True)
ax4.tick_params(axis="y", which="both", labelleft=False)
ax4.tick_params(which="major", direction="in", length=3.4, width=1.0, pad=5)
ax4.tick_params(which="minor", direction="in", length=2.1, width=1.0)
ax4.set_xlabel(r"DoPS/THz$^{-1}$", fontsize=LABEL_FS)
ax4.xaxis.label.set_va("baseline")
ax4.xaxis.set_label_coords(0.483, -0.151)
ax4.text(0.316, -15.8, "h-BN", ha="left", va="baseline", fontsize=TEXT_FS)

for ax in (ax1, ax2, ax3, ax4):
    for s in ax.spines.values():
        s.set_zorder(5)

fig.savefig("out.png", dpi=300)
